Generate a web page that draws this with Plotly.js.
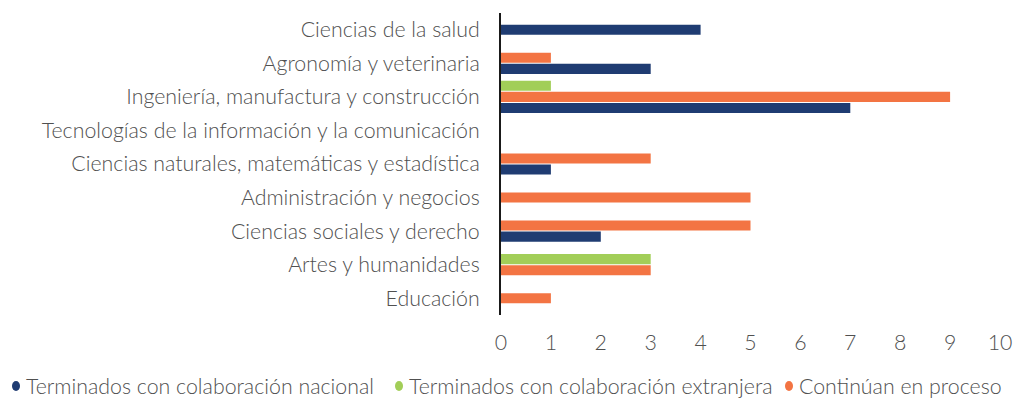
<!DOCTYPE html>
<html>
<head>
<meta charset="utf-8">
<script src="https://cdn.plot.ly/plotly-3.0.1.min.js"></script>
<style>
  html, body { margin: 0; padding: 0; background: #ffffff; }
  #chart { width: 1016px; height: 398px; }
</style>
</head>
<body>
<div id="chart"></div>
<script>
// Fields of knowledge, listed top to bottom
const categories = [
  "Ciencias de la salud",
  "Agronomía y veterinaria",
  "Ingeniería, manufactura y construcción",
  "Tecnologías de la información y la comunicación",
  "Ciencias naturales, matemáticas y estadística",
  "Administración y negocios",
  "Ciencias sociales y derecho",
  "Artes y humanidades",
  "Educación"
];

// Project counts per field
const nacional   = [4, 3, 7, 0, 1, 0, 2, 0, 0];
const extranjera = [0, 0, 1, 0, 0, 0, 0, 3, 0];
const proceso    = [0, 1, 9, 0, 3, 5, 5, 3, 1];

const seriesNames = [
  "Terminados con colaboración nacional",
  "Terminados con colaboración extranjera",
  "Continúan en proceso"
];
const seriesColors = ["#1f3c72", "#a2ce58", "#f37443"];

// Order of the bars inside a field, top to bottom
const stackOrder = [extranjera, proceso, nacional];
const stackColor = [seriesColors[1], seriesColors[2], seriesColors[0]];
const stackName  = [seriesNames[1], seriesNames[2], seriesNames[0]];

const BAR_W = 0.30;   // bar thickness in category units
const STEP = 0.33;    // distance between neighbouring bars

// Only non-empty bars take a slot; the slots of a field are centred on it
function offsetsFor(k) {
  return categories.map((_, i) => {
    const active = stackOrder.map(s => s[i] > 0);
    const n = active.filter(Boolean).length;
    let rank = 0;
    for (let j = 0; j < k; j++) if (active[j]) rank++;
    const centre = (rank - (n - 1) / 2) * STEP;
    return centre - BAR_W / 2;
  });
}

const traces = stackOrder.map((vals, k) => ({
  type: "bar",
  orientation: "h",
  name: stackName[k],
  x: vals,
  y: categories,
  width: BAR_W,
  offset: offsetsFor(k),
  marker: { color: stackColor[k], line: { width: 0 } },
  showlegend: false,
  hoverinfo: "x+y"
}));

const textColor = "#505050";
const FONT = "Lato, 'Open Sans', sans-serif";
const FS = 21.33;

// Key below the plot: a round dot and a label per series
const W = 1016, ML = 501, MR = 16;
const plotW = W - ML - MR;
const toPaper = px => (px - ML) / plotW;
const keyDotX = [16, 399, 789];
const keyY = -0.235;

const shapes = seriesNames.map((_, k) => ({
  type: "circle",
  xref: "paper", yref: "paper",
  xsizemode: "pixel", ysizemode: "pixel",
  xanchor: toPaper(keyDotX[k]), yanchor: keyY,
  x0: -4, x1: 4, y0: -5, y1: 5,
  fillcolor: seriesColors[k],
  line: { width: 0 }
}));

const annotations = seriesNames.map((name, k) => ({
  xref: "paper", yref: "paper",
  x: toPaper(keyDotX[k] + 8),
  y: keyY,
  xanchor: "left", yanchor: "middle",
  text: name,
  showarrow: false,
  font: { family: FONT, size: FS, weight: 300, color: textColor }
}));

const layout = {
  width: W,
  height: 398,
  margin: { l: ML, r: MR, t: 13, b: 83 },
  paper_bgcolor: "#ffffff",
  plot_bgcolor: "#ffffff",
  font: { family: FONT, size: FS, weight: 300, color: textColor },
  barmode: "overlay",
  showlegend: false,
  xaxis: {
    range: [0, 10],
    dtick: 1,
    tick0: 0,
    showgrid: false,
    zeroline: false,
    showline: false,
    ticks: "",
    ticklabelstandoff: 13,
    tickfont: { family: FONT, size: FS, weight: 300, color: textColor },
    fixedrange: true
  },
  yaxis: {
    type: "category",
    categoryorder: "array",
    categoryarray: categories,
    range: [8.5, -0.5],
    showgrid: false,
    zeroline: false,
    showline: true,
    linecolor: "#1a1a1a",
    linewidth: 2,
    ticks: "",
    ticklabelstandoff: 15,
    tickfont: { family: FONT, size: FS, weight: 300, color: textColor },
    fixedrange: true
  },
  shapes: shapes,
  annotations: annotations
};

Plotly.newPlot("chart", traces, layout, { displayModeBar: false, staticPlot: true });
</script>
</body>
</html>
